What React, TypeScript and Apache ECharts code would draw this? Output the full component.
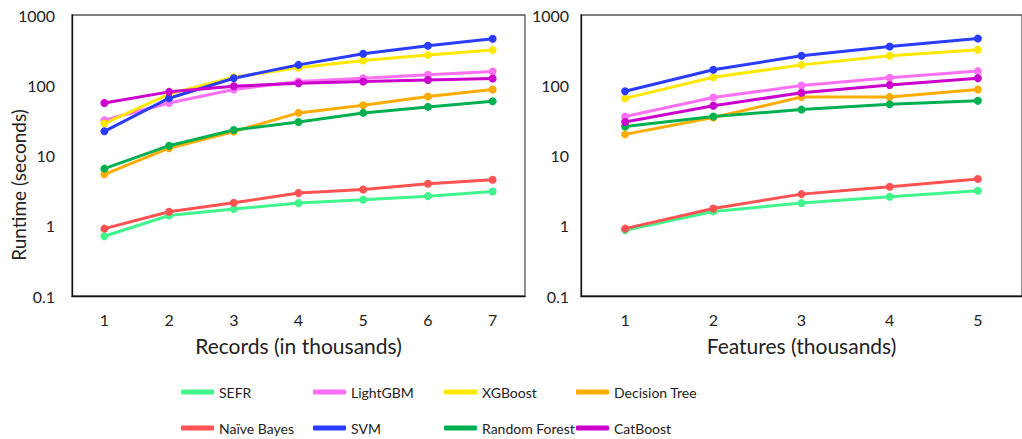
import React, { useEffect, useRef } from "react";
import * as echarts from "echarts";

const recordCategories = ["1", "2", "3", "4", "5", "6", "7"];
const featureCategories = ["1", "2", "3", "4", "5"];

const modelNames = ["SEFR", "LightGBM", "XGBoost", "Decision Tree", "Naïve Bayes", "SVM", "Random Forest", "CatBoost"];
const modelColors = ["#3ff58c", "#ff70f5", "#ffe800", "#ffac00", "#ff5252", "#2a3cff", "#00b050", "#cc00cc"];

// Runtime (seconds) vs records (thousands)
const recSEFR = [0.71, 1.4, 1.73, 2.1, 2.34, 2.64, 3.08];
const recLightGBM = [31.8, 56, 87, 113, 126, 141, 157];
const recXGBoost = [28.5, 75, 130, 177, 225, 269, 317];
const recDecisionTree = [5.4, 12.7, 21.9, 40.4, 52, 69, 87];
const recNaiveBayes = [0.91, 1.58, 2.12, 2.92, 3.29, 3.96, 4.52];
const recSVM = [22.1, 65.4, 126, 195, 281, 365, 460];
const recRandomForest = [6.5, 13.8, 23.1, 30, 40.4, 49.2, 59.3];
const recCatBoost = [56, 80.5, 97, 107, 113, 119, 125];

// Runtime (seconds) vs features (thousands)
const featSEFR = [0.86, 1.6, 2.1, 2.59, 3.15];
const featLightGBM = [36, 67, 99, 128, 159];
const featXGBoost = [65, 130, 195, 263, 320];
const featDecisionTree = [20, 34.7, 68, 68, 87];
const featNaiveBayes = [0.91, 1.76, 2.82, 3.59, 4.62];
const featSVM = [82, 166, 263, 357, 464];
const featRandomForest = [25.8, 36, 45, 53.7, 60];
const featCatBoost = [30, 51, 78, 101, 126];

const recordData = [recSEFR, recLightGBM, recXGBoost, recDecisionTree, recNaiveBayes, recSVM, recRandomForest, recCatBoost];
const featureData = [featSEFR, featLightGBM, featXGBoost, featDecisionTree, featNaiveBayes, featSVM, featRandomForest, featCatBoost];

const legendColumns = [
  ["SEFR", "Naïve Bayes"],
  ["LightGBM", "SVM"],
  ["XGBoost", "Random Forest"],
  ["Decision Tree", "CatBoost"],
];
const legendLefts = [181, 313, 444, 576];

const FONT = "Lato, 'Open Sans', sans-serif";
const TEXT = "#222";

export default function App() {
  const ref = useRef<HTMLDivElement>(null);

  useEffect(() => {
    if (!ref.current) return;
    const chart = echarts.init(ref.current, undefined, { renderer: "svg" });

    const yAxisBase = (gridIndex: number, margin: number) => ({
      type: "log",
      logBase: 10,
      min: 0.1,
      max: 1000,
      gridIndex,
      axisLine: { show: true, lineStyle: { color: "#111", width: 1.3 } },
      axisTick: { show: false },
      splitLine: { show: false },
      minorTick: { show: false },
      axisLabel: {
        margin,
        fontSize: 16,
        color: TEXT,
        fontFamily: FONT,
        formatter: (v: number) => (v < 1 ? v.toFixed(1) : String(Math.round(v))),
      },
    });

    const xAxisBase = (gridIndex: number, data: string[], name: string) => ({
      type: "category",
      gridIndex,
      data,
      boundaryGap: true,
      name,
      nameLocation: "middle",
      nameGap: 39,
      nameTextStyle: { fontSize: 21, color: TEXT, fontFamily: FONT },
      axisLine: { show: true, lineStyle: { color: "#111", width: 1.3 } },
      axisTick: { show: false },
      axisLabel: { margin: 15, fontSize: 16, color: TEXT, fontFamily: FONT },
      splitLine: { show: false },
    });

    const makeSeries = (dataSets: number[][], axisIndex: number) =>
      modelNames.map((name, i) => ({
        name,
        type: "line",
        xAxisIndex: axisIndex,
        yAxisIndex: axisIndex,
        data: dataSets[i],
        symbol: "circle",
        symbolSize: 8,
        lineStyle: { width: 3, color: modelColors[i] },
        itemStyle: { color: modelColors[i] },
        emphasis: { disabled: true },
      }));

    chart.setOption({
      animation: false,
      backgroundColor: "#ffffff",
      textStyle: { fontFamily: FONT },
      grid: [
        { left: 72, top: 15, width: 453, height: 281, show: true, borderColor: "#555", borderWidth: 1.3, backgroundColor: "transparent" },
        { left: 581, top: 15, width: 451, height: 281, show: true, borderColor: "#555", borderWidth: 1.3, backgroundColor: "transparent" },
      ],
      xAxis: [
        xAxisBase(0, recordCategories, "Records (in thousands)"),
        xAxisBase(1, featureCategories, "Features (thousands)"),
      ],
      yAxis: [yAxisBase(0, 17), yAxisBase(1, 12)],
      legend: legendColumns.map((col, ci) => ({
        data: col,
        orient: "vertical",
        left: legendLefts[ci],
        top: 382,
        itemWidth: 33,
        itemHeight: 5,
        itemGap: 16,
        icon: "roundRect",
        selectedMode: false,
        padding: 0,
        textStyle: { fontSize: 14, color: TEXT, fontFamily: FONT, lineHeight: 20 },
      })),
      graphic: [
        {
          type: "text",
          x: 18,
          y: 185,
          rotation: Math.PI / 2,
          style: {
            text: "Runtime (seconds)",
            fontSize: 19,
            fill: TEXT,
            fontFamily: FONT,
            align: "center",
            verticalAlign: "middle",
          },
        },
      ],
      series: [...makeSeries(recordData, 0), ...makeSeries(featureData, 1)],
    });

    return () => chart.dispose();
  }, []);

  return (
    <div style={{ position: "absolute", left: 0, top: 0, width: 1022, height: 439, background: "#fff" }}>
      <div ref={ref} style={{ width: 1022, height: 439 }} />
    </div>
  );
}
